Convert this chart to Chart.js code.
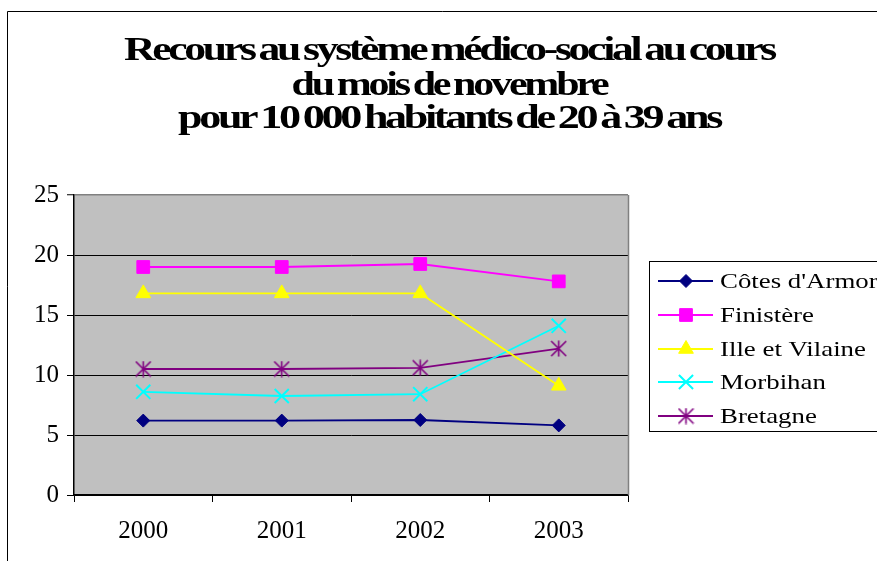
<!DOCTYPE html>
<html>
<head>
<meta charset="utf-8">
<script src="https://cdn.jsdelivr.net/npm/chart.js@4/dist/chart.umd.min.js"></script>
<style>
  html, body { margin: 0; padding: 0; background: #fff; }
  #wrap { width: 877px; height: 561px; }
</style>
</head>
<body>
<div id="wrap"><canvas id="c" width="877" height="561"></canvas></div>
<script>
// Categories and series (rate per 10 000 inhabitants aged 20-39)
const years = ['2000', '2001', '2002', '2003'];
const cotesArmor = [6.2, 6.2, 6.25, 5.8];
const finistere = [19.0, 19.0, 19.25, 17.8];
const illeEtVilaine = [16.8, 16.8, 16.8, 9.1];
const morbihan = [8.6, 8.25, 8.4, 14.1];
const bretagne = [10.5, 10.5, 10.6, 12.2];
const seriesNames = ["Côtes d'Armor", 'Finistère', 'Ille et Vilaine', 'Morbihan', 'Bretagne'];
const yTicks = [0, 5, 10, 15, 20, 25];
const titleLines = [
  'Recours au système médico-social au cours',
  'du mois de novembre',
  'pour 10 000 habitants de 20 à 39 ans'
];

const SERIF = '"Liberation Serif", "Times New Roman", serif';

// Asterisk marker: an X crossed by a vertical stroke
function makeAsterisk(color, size, lw) {
  const c = document.createElement('canvas');
  c.width = size; c.height = size;
  const g = c.getContext('2d');
  g.strokeStyle = color;
  g.lineWidth = lw;
  const m = size / 2, r = size / 2 - 1;
  g.beginPath();
  g.moveTo(m - r, m - r); g.lineTo(m + r, m + r);
  g.moveTo(m + r, m - r); g.lineTo(m - r, m + r);
  g.moveTo(m, m - r - 0.5); g.lineTo(m, m + r + 0.5);
  g.stroke();
  return c;
}
const asterisk = makeAsterisk('#800080', 17, 1.6);

function series(label, data, color, style, radius, bw) {
  return {
    label, data,
    borderColor: color,
    backgroundColor: color,
    borderWidth: 1.8,
    pointStyle: style,
    pointRadius: radius,
    pointHoverRadius: radius,
    pointBackgroundColor: color,
    pointBorderColor: color,
    pointBorderWidth: bw,
    tension: 0
  };
}

const datasets = [
  series(seriesNames[0], cotesArmor, '#000080', 'rectRot', 6.5, 1),
  series(seriesNames[1], finistere, '#FF00FF', 'rect', 9, 1),
  series(seriesNames[2], illeEtVilaine, '#FFFF00', 'triangle', 8.5, 1),
  series(seriesNames[3], morbihan, '#00FFFF', 'crossRot', 10, 2),
  series(seriesNames[4], bretagne, '#800080', asterisk, 8, 1)
];

// Grey plot area, its grey right edge and the outer frame
const plotBackground = {
  id: 'plotBackground',
  beforeDraw(chart) {
    const { ctx, chartArea: a } = chart;
    ctx.save();
    ctx.fillStyle = '#C0C0C0';
    ctx.fillRect(a.left, a.top, a.right - a.left, a.bottom - a.top);
    ctx.restore();
  },
  beforeDatasetsDraw(chart) {
    const { ctx, chartArea: a } = chart;
    ctx.save();
    ctx.strokeStyle = '#808080';
    ctx.lineWidth = 1.5;
    ctx.beginPath();
    ctx.moveTo(a.right + 0.5, a.top);
    ctx.lineTo(a.right + 0.5, a.bottom);
    ctx.stroke();
    ctx.restore();
  },
  afterDraw(chart) {
    const { ctx } = chart;
    ctx.save();
    ctx.strokeStyle = '#000';
    ctx.lineWidth = 1;
    ctx.beginPath();
    ctx.moveTo(7.5, 561);
    ctx.lineTo(7.5, 11.5);
    ctx.lineTo(877, 11.5);
    ctx.stroke();
    ctx.restore();
  }
};

// Tightly set text, stretched to a given width
function drawStretched(ctx, text, cx, baseline, width) {
  const w = ctx.measureText(text).width;
  const sx = width / w;
  ctx.save();
  ctx.translate(cx, baseline);
  ctx.scale(sx, 1);
  ctx.textAlign = 'center';
  ctx.fillText(text, 0, 0);
  ctx.restore();
}

// Three-line bold title
const titleBlock = {
  id: 'titleBlock',
  afterDraw(chart) {
    const { ctx } = chart;
    ctx.save();
    ctx.fillStyle = '#000';
    ctx.font = 'bold 33px ' + SERIF;
    ctx.textBaseline = 'alphabetic';
    if ('letterSpacing' in ctx) ctx.letterSpacing = '-2.5px';
    if ('wordSpacing' in ctx) ctx.wordSpacing = '-2px';
    const baselines = [60, 95, 128];
    const widths = [650, 315, 542];
    titleLines.forEach((t, i) => drawStretched(ctx, t, 449, baselines[i], widths[i]));
    ctx.restore();
  }
};

// Boxed legend to the right of the plot
const boxLegend = {
  id: 'boxLegend',
  afterDraw(chart) {
    const { ctx } = chart;
    const helpers = Chart.helpers;
    ctx.save();
    ctx.strokeStyle = '#000';
    ctx.lineWidth = 1;
    ctx.strokeRect(649.5, 261.5, 260, 170);
    const rowY = [281, 315, 349, 382, 416];
    chart.data.datasets.forEach((ds, i) => {
      const y = rowY[i];
      ctx.strokeStyle = ds.borderColor;
      ctx.lineWidth = 1.8;
      ctx.beginPath();
      ctx.moveTo(658, y);
      ctx.lineTo(713, y);
      ctx.stroke();
      ctx.fillStyle = ds.pointBackgroundColor;
      ctx.strokeStyle = ds.pointBorderColor;
      ctx.lineWidth = ds.pointBorderWidth;
      helpers.drawPoint(ctx, {
        pointStyle: ds.pointStyle,
        radius: ds.pointRadius,
        rotation: 0,
        borderWidth: ds.pointBorderWidth
      }, 686, y);
      ctx.save();
      ctx.fillStyle = '#000';
      ctx.font = '22px ' + SERIF;
      ctx.textAlign = 'left';
      ctx.textBaseline = 'middle';
      ctx.translate(720, y + 1);
      ctx.scale(1.22, 1);
      ctx.fillText(ds.label, 0, 0);
      ctx.restore();
    });
    ctx.restore();
  }
};

new Chart(document.getElementById('c'), {
  type: 'line',
  data: { labels: years, datasets },
  options: {
    responsive: false,
    animation: false,
    devicePixelRatio: 1,
    layout: { padding: { left: 0, top: 195, right: 249, bottom: 0 } },
    plugins: {
      legend: { display: false },
      title: { display: false },
      tooltip: { enabled: false }
    },
    scales: {
      x: {
        type: 'category',
        offset: true,
        afterFit(scale) { scale.height = 66; },
        grid: {
          offset: true,
          drawOnChartArea: false,
          drawTicks: true,
          tickLength: 7,
          tickColor: '#000',
          tickWidth: 1
        },
        border: { display: true, color: '#000', width: 1.5 },
        ticks: {
          color: '#000',
          font: { family: SERIF, size: 25 },
          padding: 14,
          maxRotation: 0
        }
      },
      y: {
        min: 0,
        max: 25,
        afterFit(scale) { scale.width = 74; },
        afterBuildTicks(scale) { scale.ticks = yTicks.map(v => ({ value: v })); },
        grid: {
          color: ctx => (ctx.tick && ctx.tick.value === 25 ? '#808080' : '#000'),
          lineWidth: ctx => (ctx.tick && ctx.tick.value === 25 ? 1.5 : 1),
          tickLength: 7,
          tickColor: '#000',
          tickWidth: 1
        },
        border: { display: true, color: '#000', width: 1.5 },
        ticks: {
          color: '#000',
          font: { family: SERIF, size: 25 },
          padding: 8
        }
      }
    }
  },
  plugins: [plotBackground, titleBlock, boxLegend]
});
</script>
</body>
</html>
